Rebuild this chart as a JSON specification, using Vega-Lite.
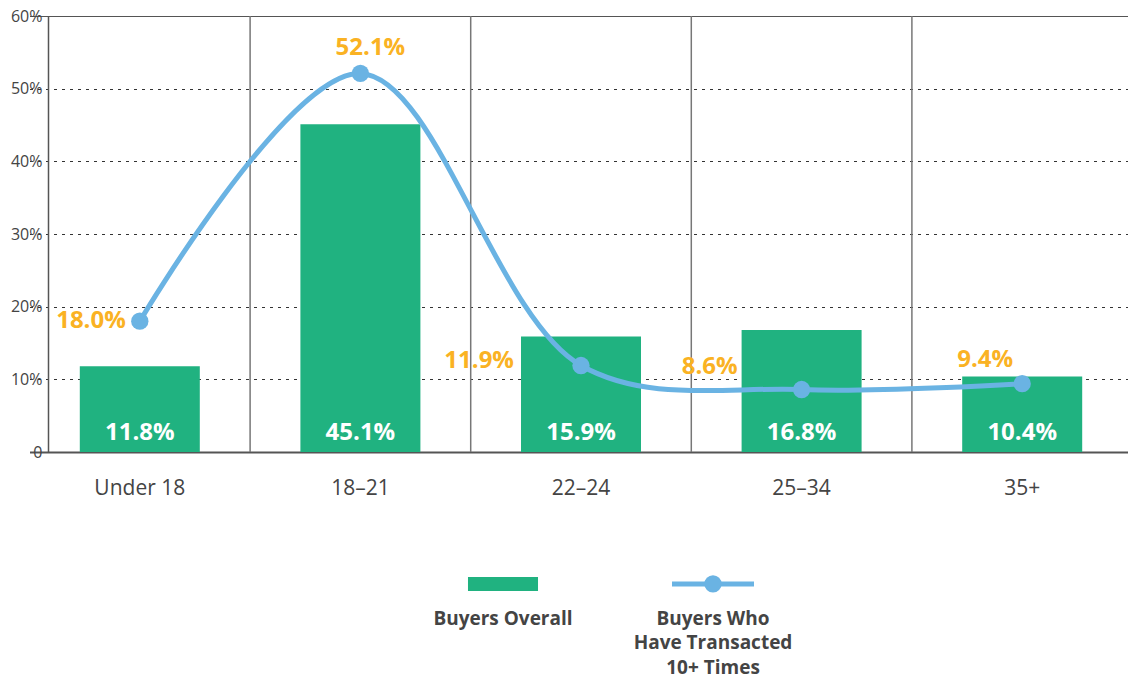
{
  "$schema": "https://vega.github.io/schema/vega-lite/v6.json",
  "width": 1080,
  "height": 436,
  "autosize": {"type": "none"},
  "padding": {"left": 48, "top": 16, "right": 0, "bottom": 227},
  "background": "white",
  "config": {
    "view": {"stroke": null},
    "font": "Open Sans",
    "axisY": {"labelFontSize": 16, "labelColor": "#444", "labelPadding": 6, "labelFont": "Open Sans", "ticks": false},
    "axisX": {"labelFontSize": 21, "labelColor": "#444", "labelPadding": 25, "labelFont": "Open Sans", "labelAngle": 0, "domain": false, "ticks": false}
  },
  "layer": [
    {
      "data": {"values": [
        {"age": "Under 18", "overall": 0.118, "frequent": 0.180},
        {"age": "18–21", "overall": 0.451, "frequent": 0.521},
        {"age": "22–24", "overall": 0.159, "frequent": 0.119},
        {"age": "25–34", "overall": 0.168, "frequent": 0.086},
        {"age": "35+", "overall": 0.104, "frequent": 0.094}
      ]},
      "encoding": {
        "x": {
          "field": "age", "type": "nominal", "sort": null,
          "scale": {"type": "band", "domain": ["Under 18", "18–21", "22–24", "25–34", "35+"], "range": [-18.5, 1084.5], "paddingInner": 0, "paddingOuter": 0},
          "axis": {
            "title": null, "ticks": false, "grid": false, "labelAngle": 0, "domain": false,
            "labelFontSize": 21, "labelColor": "#444", "labelPadding": 25
          }
        }
      },
      "layer": [
        {
          "transform": [{"filter": "datum.age !== 'Under 18'"}],
          "mark": {"type": "rule", "stroke": "#777", "strokeWidth": 1.5},
          "encoding": {
            "x": {"field": "age", "type": "nominal", "bandPosition": 0},
            "y": {"datum": 0, "type": "quantitative"},
            "y2": {"datum": 0.6}
          }
        },
        {
          "mark": {"type": "bar", "color": "#20b280", "width": 120},
          "encoding": {
            "y": {
              "field": "overall", "type": "quantitative",
              "scale": {"domain": [0, 0.6], "nice": false},
              "axis": {
                "title": null, "values": [0, 0.1, 0.2, 0.3, 0.4, 0.5, 0.6],
                "labelExpr": "datum.value == 0 ? '0' : format(datum.value, '.0%')",
                "ticks": false, "grid": true, "gridCap": "butt",
                "gridColor": {"condition": {"test": "datum.value > 0.55 || datum.value < 0.05", "value": "#555"}, "value": "#333"},
                "gridDash": {"condition": {"test": "datum.value > 0.55 || datum.value < 0.05", "value": []}, "value": [3, 5]},
                "gridWidth": {"condition": {"test": "datum.value < 0.05", "value": 2}, "value": 1},
                "domainColor": "#555", "domainWidth": 1.5,
                "labelFontSize": 16, "labelColor": "#444", "labelPadding": 6
              }
            }
          }
        },
        {
          "mark": {"type": "text", "color": "white", "fontSize": 24, "fontWeight": "bold", "baseline": "alphabetic", "dy": -12},
          "encoding": {
            "y": {"datum": 0, "type": "quantitative"},
            "text": {"field": "overall", "type": "quantitative", "format": ".1%"}
          }
        },
        {
          "mark": {"type": "line", "interpolate": "catmull-rom", "color": "#6ab3e3", "strokeWidth": 5},
          "encoding": {"y": {"field": "frequent", "type": "quantitative"}}
        },
        {
          "mark": {"type": "point", "shape": "circle", "filled": true, "opacity": 1, "color": "#6ab3e3", "size": 300},
          "encoding": {"y": {"field": "frequent", "type": "quantitative"}}
        },
        {
          "transform": [{"filter": "datum.age === 'Under 18'"}],
          "mark": {"type": "text", "color": "#fab223", "fontSize": 24, "fontWeight": "bold", "align": "right", "baseline": "middle", "dx": -14, "dy": 0},
          "encoding": {"y": {"field": "frequent", "type": "quantitative"}, "text": {"field": "frequent", "type": "quantitative", "format": ".1%"}}
        },
        {
          "transform": [{"filter": "datum.age === '18–21'"}],
          "mark": {"type": "text", "color": "#fab223", "fontSize": 24, "fontWeight": "bold", "align": "center", "baseline": "middle", "dx": 10, "dy": -25},
          "encoding": {"y": {"field": "frequent", "type": "quantitative"}, "text": {"field": "frequent", "type": "quantitative", "format": ".1%"}}
        },
        {
          "transform": [{"filter": "datum.age === '22–24'"}],
          "mark": {"type": "text", "color": "#fab223", "fontSize": 24, "fontWeight": "bold", "align": "right", "baseline": "middle", "dx": -67, "dy": -5},
          "encoding": {"y": {"field": "frequent", "type": "quantitative"}, "text": {"field": "frequent", "type": "quantitative", "format": ".1%"}}
        },
        {
          "transform": [{"filter": "datum.age === '25–34'"}],
          "mark": {"type": "text", "color": "#fab223", "fontSize": 24, "fontWeight": "bold", "align": "right", "baseline": "middle", "dx": -64, "dy": -23},
          "encoding": {"y": {"field": "frequent", "type": "quantitative"}, "text": {"field": "frequent", "type": "quantitative", "format": ".1%"}}
        },
        {
          "transform": [{"filter": "datum.age === '35+'"}],
          "mark": {"type": "text", "color": "#fab223", "fontSize": 24, "fontWeight": "bold", "align": "center", "baseline": "middle", "dx": -37, "dy": -24},
          "encoding": {"y": {"field": "frequent", "type": "quantitative"}, "text": {"field": "frequent", "type": "quantitative", "format": ".1%"}}
        }
      ]
    },
    {
      "data": {"values": [
        {"series": "Buyers Overall"},
        {"series": "Buyers Who\nHave Transacted\n10+ Times"}
      ]},
      "encoding": {
        "x": {
          "field": "series", "type": "nominal", "sort": null,
          "scale": {"type": "point", "domain": ["Buyers Overall", "Buyers Who\nHave Transacted\n10+ Times"], "range": [455, 665], "padding": 0},
          "axis": null
        }
      },
      "layer": [
        {
          "mark": {"type": "point", "filled": true, "opacity": 1, "strokeWidth": 0, "size": 6724},
          "encoding": {
            "y": {"datum": -0.1816, "type": "quantitative", "scale": {"domain": [0, 0.6], "nice": false}, "axis": null},
            "shape": {"field": "series", "type": "nominal", "legend": null,
              "scale": {"domain": ["Buyers Overall", "Buyers Who\nHave Transacted\n10+ Times"], "range": ["M-0.854,-0.171H0.854V0.171H-0.854Z", "M-1,-0.061H1V0.061H-1Z"]}},
            "color": {"field": "series", "type": "nominal", "legend": null,
              "scale": {"domain": ["Buyers Overall", "Buyers Who\nHave Transacted\n10+ Times"], "range": ["#20b280", "#6ab3e3"]}}
          }
        },
        {
          "transform": [{"filter": "datum.series !== 'Buyers Overall'"}],
          "mark": {"type": "point", "shape": "circle", "filled": true, "opacity": 1, "color": "#6ab3e3", "size": 300},
          "encoding": {"y": {"datum": -0.1816, "type": "quantitative"}}
        },
        {
          "mark": {"type": "text", "lineBreak": "\n", "align": "center", "baseline": "top", "fontSize": 19, "fontWeight": "bold", "color": "#444", "lineHeight": 24.5},
          "encoding": {
            "y": {"datum": -0.2174, "type": "quantitative"},
            "text": {"field": "series", "type": "nominal"}
          }
        }
      ]
    }
  ],
  "resolve": {"scale": {"x": "independent", "y": "independent", "color": "independent", "shape": "independent"}, "axis": {"x": "independent", "y": "independent"}}
}
